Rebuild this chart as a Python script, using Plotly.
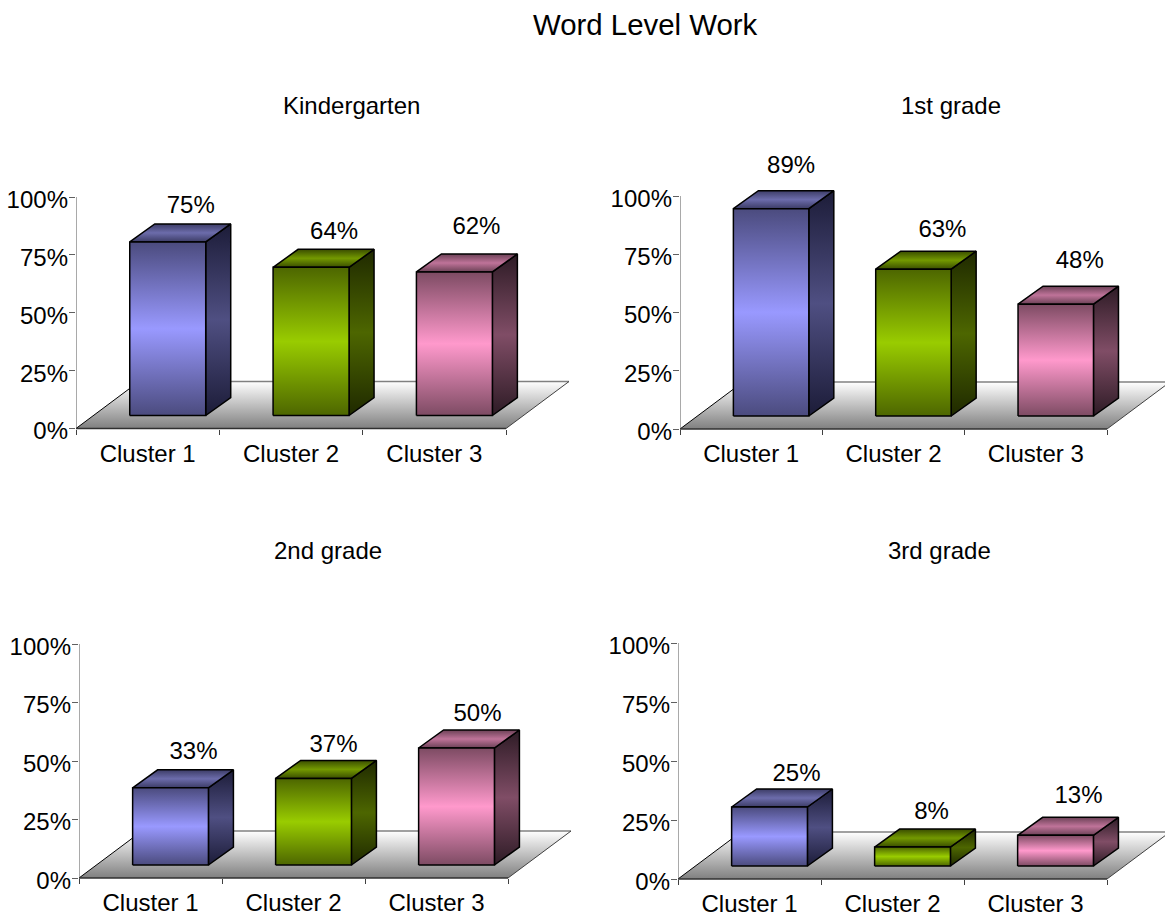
import plotly.graph_objects as go

# ---- data ----
categories = ["Cluster 1", "Cluster 2", "Cluster 3"]
kindergarten = [75, 64, 62]
first_grade = [89, 63, 48]
second_grade = [33, 37, 50]
third_grade = [25, 8, 13]
panel_titles = ["Kindergarten", "1st grade", "2nd grade", "3rd grade"]
main_title = "Word Level Work"
y_ticks = [0, 25, 50, 75, 100]
y_labels = ["0%", "25%", "50%", "75%", "100%"]

# ---- styling / geometry ----
W, H = 1165, 918
FONT = "Liberation Sans, Arial, sans-serif"
FS = 24
PANELS = [
    dict(values=kindergarten, x0=76, x1=506, ytop=197, ybot=428.5, tx=351,
         ldx=[23, 23, 22], ldy=[17, 16, 26]),
    dict(values=first_grade, x0=680, x1=1107, ytop=196, ybot=429, tx=951,
         ldx=[20, 29, 24], ldy=[24, 20, 24]),
    dict(values=second_grade, x0=79, x1=508, ytop=644, ybot=878, tx=328,
         ldx=[23, 20, 21], ldy=[17, 14, 15]),
    dict(values=third_grade, x0=678, x1=1107, ytop=643, ybot=879, tx=939,
         ldx=[27, 19, 23], ldy=[14, 16, 20]),
]
TITLE_Y = [105, 105, 550, 550]
BAR_OFF, BAR_W = 0.375, 0.53
DEPTH_PX = (25, 18)
FLOOR_PX = (63, 47)
BASE_PX = 13
X_MAX = 3.45    # plot area runs past the third category so the floor fits
Y_MAX = 122     # and above 100% so the tallest box and its label fit
Y_MIN = -5      # plot area dips below 0% so the dropped 0% label stays in range
LABEL_DROP_PX = 2.5  # y tick labels sit slightly below their tick marks

COLORS = [
    dict(front=("#4b4b7e", "#9999ff"), side=("#1c1c38", "#4f4f82"), top=("#3c3c66", "#6c6cab")),
    dict(front=("#4d6600", "#99cc00"), side=("#1f2900", "#4d6600"), top=("#3a4d00", "#739900")),
    dict(front=("#7d4b63", "#ff99cc"), side=("#2d1b25", "#804d66"), top=("#6b4156", "#bf7399")),
]


def sym(c_edge, c_mid):
    return [[0, c_edge], [0.5, c_mid], [1, c_edge]]


fig = go.Figure()


def poly(xs, ys, ax, ay, scale, lc="#000000", lw=1.5):
    fig.add_trace(go.Scatter(
        x=xs, y=ys, xaxis=ax, yaxis=ay, mode="lines", fill="toself",
        fillgradient=dict(type="vertical", colorscale=scale),
        line=dict(color=lc, width=lw), cliponaxis=False,
        hoverinfo="skip", showlegend=False))


def line(xs, ys, ax, ay, c, w):
    fig.add_trace(go.Scatter(
        x=xs, y=ys, xaxis=ax, yaxis=ay, mode="lines",
        line=dict(color=c, width=w), cliponaxis=False,
        hoverinfo="skip", showlegend=False))


layout = {}
annotations = []
for k, p in enumerate(PANELS):
    n = "" if k == 0 else str(k + 1)
    ax, ay = "x" + n, "y" + n
    ay_lab = "y" + str(k + 5)
    px_x = (p["x1"] - p["x0"]) / 3          # pixels per category
    px_y = (p["ybot"] - p["ytop"]) / 100    # pixels per percent
    fx, fy = FLOOR_PX[0] / px_x, FLOOR_PX[1] / px_y
    dx, dy = DEPTH_PX[0] / px_x, DEPTH_PX[1] / px_y
    base = BASE_PX / px_y

    # floor
    poly([0, 3, 3 + fx, fx, 0], [0, 0, fy, fy, 0], ax, ay,
         [[0, "#808080"], [1, "#ffffff"]], lc="rgba(0,0,0,0)", lw=0)
    line([fx, 3 + fx], [fy, fy], ax, ay, "#808080", 1.5)
    line([0, fx], [0, fy], ax, ay, "#000000", 1)
    line([3, 3 + fx], [0, fy], ax, ay, "#404040", 1)
    # axis lines stop at the last category and at 100%
    line([0, 0], [0, 100], ax, ay, "#707070", 1.2)
    line([0, 3], [0, 0], ax, ay, "#303030", 1.5)

    for i, v in enumerate(p["values"]):
        l, r = i + BAR_OFF, i + BAR_OFF + BAR_W
        top = base + v
        c = COLORS[i]
        poly([r, r + dx, r + dx, r, r], [base, base + dy, top + dy, top, base], ax, ay, sym(*c["side"]))
        poly([l, l + dx, r + dx, r, l], [top, top + dy, top + dy, top, top], ax, ay, sym(*c["top"]))
        poly([l, r, r, l, l], [base, base, top, top, base], ax, ay, sym(*c["front"]))
        lx = (l + r) / 2 + p["ldx"][i] / px_x
        ly = top + dy + p["ldy"][i] / px_y
        fig.add_trace(go.Scatter(
            x=[lx], y=[ly], xaxis=ax, yaxis=ay, mode="text", text=[f"{v}%"],
            textposition="middle center", cliponaxis=False,
            textfont=dict(family=FONT, size=FS, color="#000000"),
            hoverinfo="skip", showlegend=False))

    # an invisible trace keeps the overlay axis that carries the % labels alive
    fig.add_trace(go.Scatter(x=[0], y=[0], xaxis=ax, yaxis=ay_lab, mode="none",
                             hoverinfo="skip", showlegend=False))

    right_px = p["x0"] + X_MAX * px_x
    top_px = p["ybot"] - Y_MAX * px_y
    bottom_px = p["ybot"] - Y_MIN * px_y
    domain_y = [1 - bottom_px / H, 1 - top_px / H]
    layout["xaxis" + n] = dict(
        domain=[p["x0"] / W, min(right_px / W, 1)],
        range=[0, min(X_MAX, (W - p["x0"]) / px_x)],
        anchor="free", position=1 - p["ybot"] / H,
        tickmode="array", tickvals=[0.5, 1.5, 2.5], ticktext=categories,
        ticks="", showgrid=False, zeroline=False, showline=False,
        ticklabelstandoff=8,
        tickfont=dict(family=FONT, size=FS, color="#000000"),
        minor=dict(tickmode="array", tickvals=[0, 1, 2, 3], ticks="outside",
                   ticklen=5, tickwidth=1, tickcolor="#404040", showgrid=False),
    )
    layout["yaxis" + n] = dict(
        domain=domain_y, range=[Y_MIN, Y_MAX], anchor=ax,
        tickmode="array", tickvals=y_ticks, showticklabels=False,
        ticks="outside", ticklen=6, tickwidth=1, tickcolor="#606060",
        showgrid=False, zeroline=False, showline=False,
    )
    shift = LABEL_DROP_PX / px_y
    layout["yaxis" + str(k + 5)] = dict(
        domain=domain_y, range=[Y_MIN + shift, Y_MAX + shift], anchor=ax, overlaying=ay,
        tickmode="array", tickvals=y_ticks, ticktext=y_labels,
        ticks="", ticklen=0, showgrid=False, zeroline=False, showline=False,
        ticklabelstandoff=7, side="left",
        tickfont=dict(family=FONT, size=FS, color="#000000"),
    )
    annotations.append(dict(
        text=panel_titles[k], x=p["tx"] / W, y=1 - TITLE_Y[k] / H, xref="paper", yref="paper",
        xanchor="center", yanchor="middle", showarrow=False,
        font=dict(family=FONT, size=FS, color="#000000")))

annotations.append(dict(
    text=main_title, x=645 / W, y=1 - 25 / H, xref="paper", yref="paper",
    xanchor="center", yanchor="middle", showarrow=False,
    font=dict(family=FONT, size=29.4, color="#000000")))

fig.update_layout(
    width=W, height=H, margin=dict(l=0, r=0, t=0, b=0, autoexpand=False),
    paper_bgcolor="#ffffff", plot_bgcolor="rgba(0,0,0,0)",
    showlegend=False, annotations=annotations, **layout)

fig.write_html("out.html", post_script="document.body.style.margin='0';",
               config={"displayModeBar": False})
